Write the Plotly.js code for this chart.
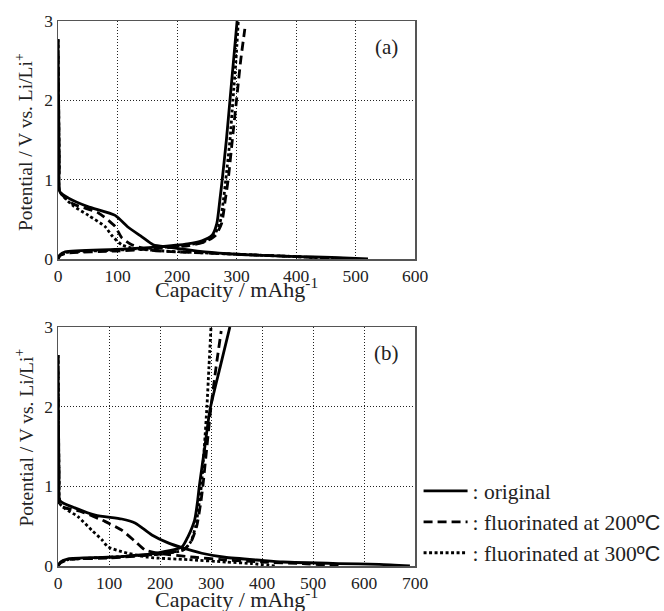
<!DOCTYPE html>
<html>
<head>
<meta charset="utf-8">
<script src="https://cdn.plot.ly/plotly-3.0.1.min.js"></script>
<style>
html,body{margin:0;padding:0;background:#fff;}
#chart{width:664px;height:611px;}
</style>
</head>
<body>
<div id="chart"></div>
<script>
// ---------- Panel (a) ----------
var a_orig_dis_cap = [0, 1, 2, 3, 17, 50, 96, 118, 141, 160, 185, 247, 300, 331, 401, 460, 521];
var a_orig_dis_v   = [2.77, 2.0, 1.2, 0.85, 0.77, 0.66, 0.55, 0.40, 0.28, 0.18, 0.15, 0.09, 0.06, 0.05, 0.03, 0.02, 0.0];
var a_orig_chg_cap = [0, 3, 12, 96, 163, 218, 242, 259, 267, 272, 276, 283, 289, 295, 301];
var a_orig_chg_v   = [0.0, 0.05, 0.09, 0.12, 0.15, 0.19, 0.23, 0.30, 0.45, 0.74, 1.0, 1.5, 2.0, 2.5, 3.0];

var a_f200_dis_cap = [0, 1, 2, 3, 24, 68, 96, 107, 124, 158, 200, 300, 400, 500];
var a_f200_dis_v   = [2.77, 2.0, 1.2, 0.85, 0.70, 0.58, 0.41, 0.27, 0.18, 0.11, 0.09, 0.06, 0.03, 0.0];
var a_f200_chg_cap = [0, 3, 12, 96, 163, 220, 248, 265, 275, 281, 286, 293, 300, 307, 314];
var a_f200_chg_v   = [0.0, 0.04, 0.07, 0.10, 0.13, 0.17, 0.22, 0.30, 0.45, 0.74, 1.0, 1.5, 2.0, 2.5, 2.9];

var a_f300_dis_cap = [0, 1, 2, 3, 24, 51, 79, 90, 107, 130, 180, 300, 400, 470];
var a_f300_dis_v   = [2.77, 2.0, 1.2, 0.85, 0.68, 0.55, 0.41, 0.30, 0.18, 0.13, 0.10, 0.06, 0.03, 0.0];
var a_f300_chg_cap = [0, 3, 12, 96, 163, 220, 246, 262, 272, 278, 282, 289, 294, 299, 303];
var a_f300_chg_v   = [0.0, 0.04, 0.08, 0.11, 0.14, 0.18, 0.22, 0.30, 0.45, 0.74, 1.0, 1.5, 2.0, 2.5, 3.0];

// ---------- Panel (b) ----------
var b_orig_dis_cap = [0, 1, 2, 4, 33, 73, 125, 151, 184, 216, 243, 282, 327, 400, 441, 550, 630, 690];
var b_orig_dis_v   = [2.65, 1.8, 1.1, 0.82, 0.73, 0.64, 0.59, 0.54, 0.39, 0.29, 0.23, 0.16, 0.11, 0.07, 0.05, 0.03, 0.02, 0.0];
var b_orig_chg_cap = [0, 5, 20, 98, 190, 243, 255, 268, 274, 277, 288, 298, 318, 337];
var b_orig_chg_v   = [0.0, 0.05, 0.09, 0.11, 0.16, 0.24, 0.37, 0.58, 0.83, 1.0, 1.5, 1.96, 2.5, 3.0];

var b_f200_dis_cap = [0, 1, 2, 4, 47, 92, 125, 151, 171, 196, 268, 321, 400, 480, 550];
var b_f200_dis_v   = [2.65, 1.8, 1.1, 0.76, 0.68, 0.56, 0.45, 0.31, 0.20, 0.16, 0.11, 0.08, 0.05, 0.03, 0.0];
var b_f200_chg_cap = [0, 5, 20, 100, 200, 248, 262, 272, 280, 284, 292, 300, 310, 320];
var b_f200_chg_v   = [0.0, 0.04, 0.08, 0.10, 0.15, 0.21, 0.32, 0.50, 0.80, 1.0, 1.5, 2.0, 2.5, 2.95];

var b_f300_dis_cap = [0, 1, 2, 4, 14, 39, 66, 86, 98, 125, 176, 255, 330, 380, 425];
var b_f300_dis_v   = [2.65, 1.8, 1.1, 0.78, 0.72, 0.62, 0.45, 0.33, 0.24, 0.18, 0.11, 0.08, 0.05, 0.03, 0.0];
var b_f300_chg_cap = [0, 5, 20, 100, 200, 245, 260, 270, 277, 281, 287, 292, 296, 300];
var b_f300_chg_v   = [0.0, 0.05, 0.08, 0.11, 0.15, 0.20, 0.30, 0.50, 0.80, 1.0, 1.5, 2.0, 2.5, 3.0];

var seriesNames = [
  ': original',
  ': fluorinated at 200<span style="font-family:\'Liberation Sans\'">ºC</span>',
  ': fluorinated at 300<span style="font-family:\'Liberation Sans\'">ºC</span>'
];
var panelLabels = ['(a)', '(b)'];
var xTitle = 'Capacity / mAhg<sup>-1</sup>';
var yTitle = 'Potential / V vs. Li/Li<sup>+</sup>';
var xTickVals_a = [0, 100, 200, 300, 400, 500, 600];
var xTickVals_b = [0, 100, 200, 300, 400, 500, 600, 700];
var yTickVals = [0, 1, 2, 3];

var styles = [
  {dash: 'solid', width: 2.8},
  {dash: '9px,5px', width: 2.8},
  {dash: '3px,2.5px', width: 2.8}
];

function joinCurve(c1, v1, c2, v2) {
  return {x: c1.concat([null]).concat(c2), y: v1.concat([null]).concat(v2)};
}

var panelA = [
  joinCurve(a_orig_dis_cap, a_orig_dis_v, a_orig_chg_cap, a_orig_chg_v),
  joinCurve(a_f200_dis_cap, a_f200_dis_v, a_f200_chg_cap, a_f200_chg_v),
  joinCurve(a_f300_dis_cap, a_f300_dis_v, a_f300_chg_cap, a_f300_chg_v)
];
var panelB = [
  joinCurve(b_orig_dis_cap, b_orig_dis_v, b_orig_chg_cap, b_orig_chg_v),
  joinCurve(b_f200_dis_cap, b_f200_dis_v, b_f200_chg_cap, b_f200_chg_v),
  joinCurve(b_f300_dis_cap, b_f300_dis_v, b_f300_chg_cap, b_f300_chg_v)
];

var traces = [];
panelA.forEach(function (d, i) {
  traces.push({
    x: d.x, y: d.y, xaxis: 'x', yaxis: 'y', type: 'scatter', mode: 'lines',
    name: seriesNames[i], showlegend: false, connectgaps: false,
    line: {color: '#000', width: styles[i].width, dash: styles[i].dash, shape: 'spline', smoothing: 0.6}
  });
});
panelB.forEach(function (d, i) {
  traces.push({
    x: d.x, y: d.y, xaxis: 'x2', yaxis: 'y2', type: 'scatter', mode: 'lines',
    name: seriesNames[i], showlegend: true, connectgaps: false,
    line: {color: '#000', width: styles[i].width, dash: styles[i].dash, shape: 'spline', smoothing: 0.6}
  });
});

var serif = 'Liberation Serif, Times New Roman, serif';
function xAxis(range, ticks, anchor) {
  return {
    range: range, tickvals: ticks, ticktext: ticks.map(String), anchor: anchor,
    showgrid: true, gridcolor: '#222', griddash: '1px,2px', gridwidth: 1,
    showline: true, mirror: true, linecolor: '#555', linewidth: 1.5,
    zeroline: false, ticks: '',
    tickfont: {family: serif, size: 17.5, color: '#222'}
  };
}
function yAxis(domain, anchor) {
  return {
    domain: domain, range: [0, 3], tickvals: yTickVals, ticktext: yTickVals.map(String), anchor: anchor,
    showgrid: true, gridcolor: '#222', griddash: '1px,2px', gridwidth: 1,
    showline: true, mirror: true, linecolor: '#555', linewidth: 1.5,
    zeroline: false, ticks: '',
    tickfont: {family: serif, size: 17.5, color: '#222'}
  };
}

function ann(xr, yr, x, y, text, size, extra) {
  var a = {xref: xr, yref: yr, x: x, y: y, text: text, showarrow: false,
           xanchor: 'center', yanchor: 'middle', font: {family: serif, size: size, color: '#222'}};
  for (var k in extra) a[k] = extra[k];
  return a;
}

var layout = {
  width: 664, height: 611,
  margin: {l: 58, r: 249, t: 21, b: 45, autoexpand: false},
  paper_bgcolor: '#fff', plot_bgcolor: '#fff',
  showlegend: true,
  xaxis: xAxis([0, 600], xTickVals_a, 'y'),
  yaxis: yAxis([0.5633, 1], 'x'),
  xaxis2: xAxis([0, 700], xTickVals_b, 'y2'),
  yaxis2: yAxis([0, 0.4385], 'x2'),
  legend: {
    x: 1.01, y: 0.1755, xanchor: 'left', yanchor: 'top',
    font: {family: serif, size: 21.5, color: '#222'},
    itemwidth: 44, tracegroupgap: 0, bgcolor: 'rgba(0,0,0,0)'
  },
  annotations: [
    ann('x domain', 'y domain', 0.92, 0.89, panelLabels[0], 21, {}),
    ann('x2 domain', 'y2 domain', 0.92, 0.89, panelLabels[1], 21, {}),
    ann('x domain', 'y domain', 0.5, 0, xTitle, 22, {yshift: -29}),
    ann('x2 domain', 'y2 domain', 0.5, 0, xTitle, 22, {yshift: -32}),
    ann('x domain', 'y domain', 0, 0.5, yTitle, 19.5, {textangle: -90, xshift: -34, yshift: -2}),
    ann('x2 domain', 'y2 domain', 0, 0.5, yTitle, 19.5, {textangle: -90, xshift: -34, yshift: 9})
  ]
};

Plotly.newPlot('chart', traces, layout, {displayModeBar: false, staticPlot: true});
</script>
</body>
</html>
